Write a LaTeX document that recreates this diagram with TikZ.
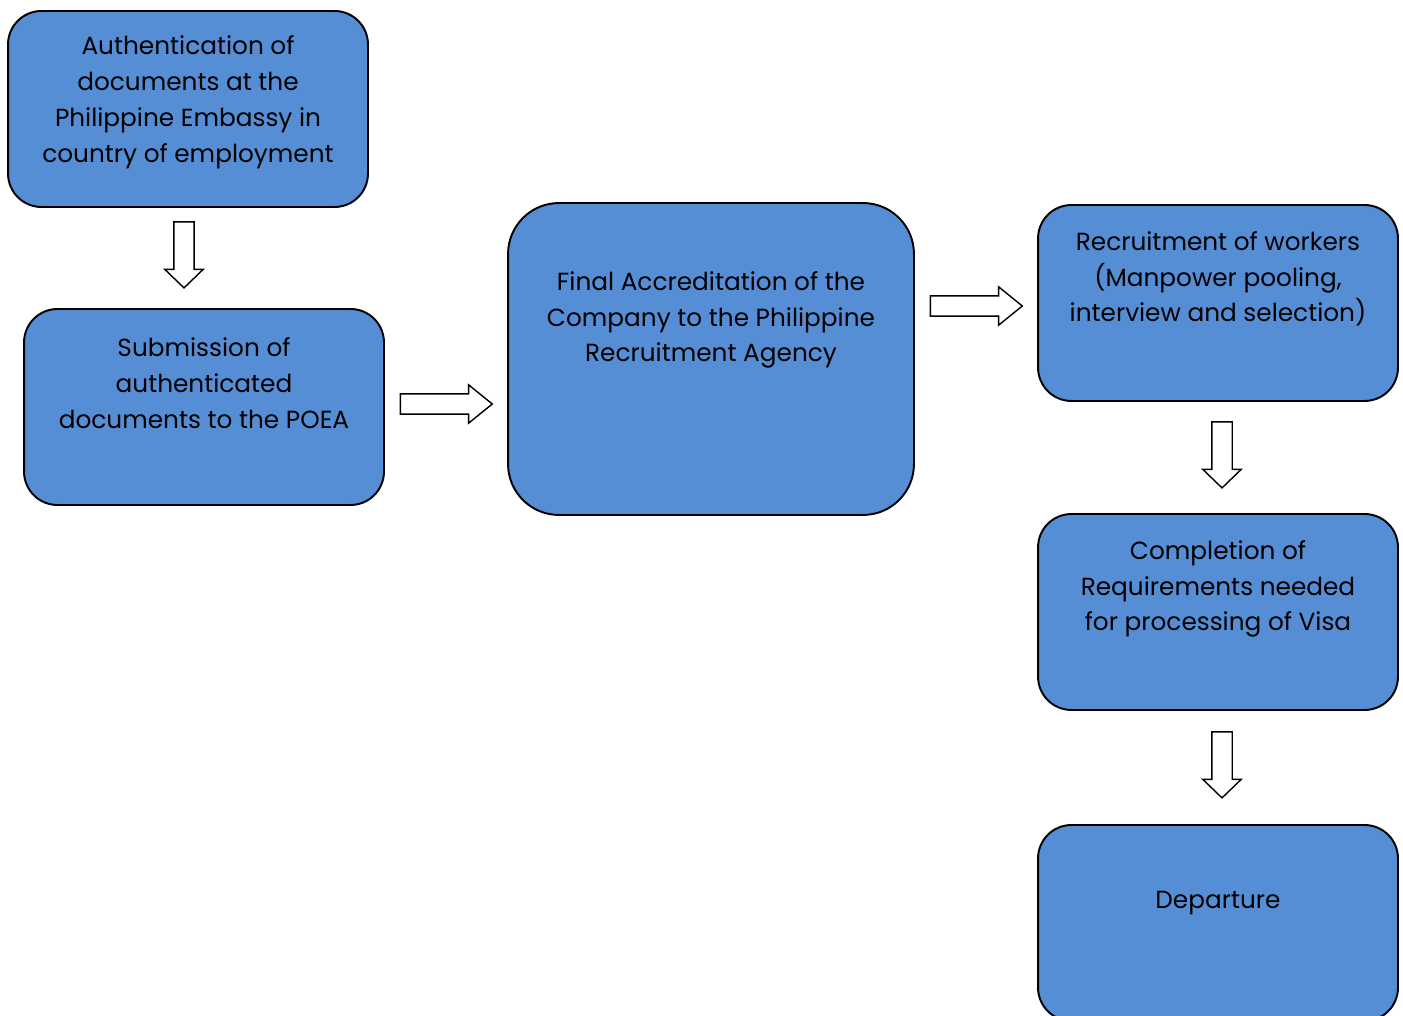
\documentclass[tikz,border=0pt]{standalone}
\usepackage{fontspec}
\setmainfont{Poppins}
\usetikzlibrary{shapes.arrows, positioning, calc}

\definecolor{boxblue}{RGB}{85,142,213}

\begin{document}
\begin{tikzpicture}[
    % styles
    x=0.02cm, y=-0.02cm,
    stepbox/.style={draw, fill=boxblue, rectangle, rounded corners=19pt, line width=1.1pt, minimum width=7.2cm, minimum height=3.92cm},
    bigbox/.style={stepbox, rounded corners=29pt, minimum width=8.12cm, minimum height=6.24cm},
    steptext/.style={align=center, font=\fontsize{14.1}{20.4}\selectfont, inner sep=0pt},
    blockarrow/.style={draw, fill=white, single arrow, line width=0.8pt, inner xsep=0pt, inner ysep=5.4pt, single arrow head extend=5.1pt, single arrow head indent=0pt},
    rightarrow/.style={blockarrow, minimum height=1.84cm, single arrow tip angle=78},
    downarrow/.style={blockarrow, rotate=-90, minimum height=1.32cm, single arrow tip angle=92}
]
    \useasboundingbox (0,0) rectangle (1403,1016);

    % boxes
    \node[stepbox] (auth) at (188,109) {};
    \node[stepbox] (submit) at (204,407) {};
    \node[bigbox] (accred) at (711,359) {};
    \node[stepbox] (recruit) at (1218,303) {};
    \node[stepbox] (complete) at (1218,612) {};
    \node[stepbox] (depart) at (1218,923) {};

    % texts
    \node[steptext] (authtxt) at (188,102) {Authentication of\\documents at the\\Philippine Embassy in\\country of employment};
    \node[steptext] (submittxt) at (204,383) {Submission of\\authenticated\\documents to the POEA};
    \node[steptext] (accredtxt) at (711,320) {Final Accreditation of the\\Company to the Philippine\\Recruitment Agency};
    \node[steptext] (recruittxt) at (1218,279) {Recruitment of workers\\(Manpower pooling,\\interview and selection)};
    \node[steptext] (completetxt) at (1218,589) {Completion of\\Requirements needed\\for processing of Visa};
    \node[steptext] (departtxt) at (1218,903) {Departure};

    % arrows
    \node[downarrow] (arr1) at (184,250) {};
    \node[rightarrow] (arr2) at (440,404) {};
    \node[rightarrow] (arr3) at (970,306) {};
    \node[downarrow] (arr4) at (1222,450) {};
    \node[downarrow] (arr5) at (1222,760) {};

\end{tikzpicture}
\end{document}
